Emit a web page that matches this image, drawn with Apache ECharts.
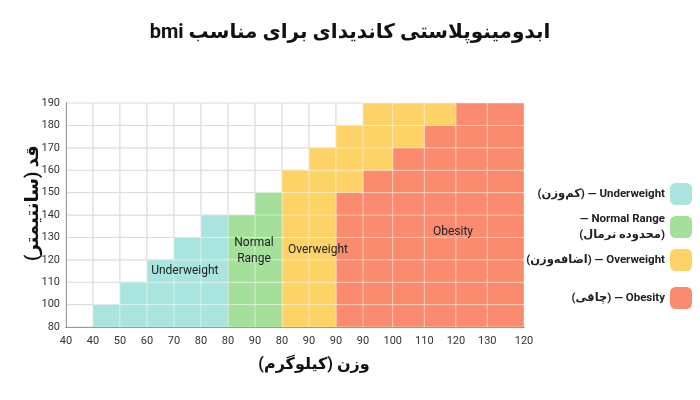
<!DOCTYPE html>
<html>
<head>
<meta charset="utf-8">
<script src="https://cdn.jsdelivr.net/npm/echarts@6/dist/echarts.min.js"></script>
<style>
  html, body { margin: 0; padding: 0; background: #fff; }
  #chart { width: 700px; height: 400px; }
</style>
</head>
<body>
<div id="chart"></div>
<script>
// برچسب‌های محور افقی (وزن) و عمودی (قد) — همان‌طور که در تصویر آمده
const xLabels = ['40', '40', '50', '60', '70', '80', '80', '90', '80', '90', '90', '90', '100', '110', '120', '130', '120']
const yLabels = ['80', '100', '110', '120', '130', '140', '150', '160', '170', '180', '190']
// پهنای نسبی هر ستون
const colWidths = [1, 1, 1, 1, 1, 1, 1, 1, 1, 1, 1, 1.1, 1.17, 1.17, 1.16, 1.36]

// تعداد خانه‌های هر دسته در هر ستون (از پایین به بالا: چاقی، اضافه‌وزن، نرمال، کم‌وزن)
const underweight = [0, 1, 2, 3, 4, 5, 0, 0, 0, 0, 0, 0, 0, 0, 0, 0]
const normalRange = [0, 0, 0, 0, 0, 0, 5, 6, 0, 0, 0, 0, 0, 0, 0, 0]
const overweight  = [0, 0, 0, 0, 0, 0, 0, 0, 7, 8, 3, 3, 2, 1, 0, 0]
const obesity     = [0, 0, 0, 0, 0, 0, 0, 0, 0, 0, 6, 7, 8, 9, 10, 10]
const rowCount = yLabels.length - 1

// متن‌ها
const rtl = s => '\u202B' + s + '\u202C'
// هر کلمه جدا رسم می‌شود تا ترتیب کلمات مثل تصویر بماند
const titleWords = ['bmi', 'مناسب', 'برای', 'کاندیدای', 'ابدومینوپلاستی']
const xName = rtl('وزن (کیلوگرم)')
const yName = rtl('قد (سانتیمتر)')

const regionLabels = [
  { text: 'Underweight', x: 4.4, y: 2.48 },
  { text: 'Normal\nRange', x: 6.96, y: 3.4 },
  { text: 'Overweight', x: 9.33, y: 3.42 },
  { text: 'Obesity', x: 14.33, y: 4.22 }
]

// مرز ستون‌ها
const edges = [0]
colWidths.forEach(w => edges.push(Math.round((edges[edges.length - 1] + w) * 1000) / 1000))

const categories = [
  { name: 'Obesity', counts: obesity, color: '#fb8b6e', legend: rtl('Obesity — (چاقی)'), top: 287 },
  { name: 'Overweight', counts: overweight, color: '#fdd368', legend: rtl('Overweight — (اضافه‌وزن)'), top: 249 },
  { name: 'Normal Range', counts: normalRange, color: '#a4e09a', legend: rtl('Normal Range —') + '\n' + rtl('(محدوده نرمال)'), top: 211 },
  { name: 'Underweight', counts: underweight, color: '#a9e5de', legend: rtl('Underweight — (کم‌وزن)'), top: 183 }
]

// ساخت خانه‌ها
const cellData = categories.map(() => [])
const whiteCells = []
for (let c = 0; c < colWidths.length; c++) {
  let r = 0
  categories.forEach((cat, i) => {
    for (let k = 0; k < cat.counts[c]; k++) {
      cellData[i].push([edges[c], edges[c + 1], r, r + 1])
      r++
    }
  })
  for (; r < rowCount; r++) whiteCells.push([edges[c], edges[c + 1], r, r + 1])
}

const cellRender = stroke => (params, api) => {
  const p0 = api.coord([api.value(0), api.value(2)])
  const p1 = api.coord([api.value(1), api.value(3)])
  return {
    type: 'rect',
    shape: { x: p0[0], y: p1[1], width: p1[0] - p0[0], height: p0[1] - p1[1] },
    style: { fill: api.visual('color'), stroke: stroke, lineWidth: 1 }
  }
}

const fontFamily = 'Roboto, "Noto Sans", "DejaVu Sans", sans-serif'

const series = [{
  type: 'custom',
  name: 'empty',
  data: whiteCells,
  encode: { x: [0, 1], y: [2, 3] },
  itemStyle: { color: '#ffffff' },
  renderItem: cellRender('#dcdcdc'),
  silent: true
}]
categories.forEach((cat, i) => {
  series.push({
    type: 'custom',
    name: cat.name,
    data: cellData[i],
    encode: { x: [0, 1], y: [2, 3] },
    itemStyle: { color: cat.color },
    renderItem: cellRender('rgba(255,255,255,0.35)'),
    silent: true
  })
})
series.push({
  type: 'custom',
  name: 'labels',
  data: regionLabels.map(l => [l.x, l.y]),
  encode: { x: 0, y: 1 },
  z: 10,
  silent: true,
  renderItem: (params, api) => {
    const p = api.coord([api.value(0), api.value(1)])
    return {
      type: 'text',
      x: p[0],
      y: p[1],
      style: {
        text: regionLabels[params.dataIndex].text,
        fill: '#222',
        fontSize: 12,
        fontFamily: fontFamily,
        align: 'center',
        verticalAlign: 'middle',
        lineHeight: 16
      }
    }
  }
})

const legends = categories.map(cat => ({
  data: [cat.name],
  orient: 'vertical',
  right: 8,
  top: cat.top,
  padding: 0,
  align: 'right',
  icon: 'roundRect',
  itemWidth: 22,
  itemHeight: 22,
  selectedMode: false,
  formatter: () => cat.legend,
  textStyle: { fontSize: 11.5, fontWeight: 'bold', color: '#222', fontFamily: fontFamily, lineHeight: 16 }
}))

const findIdx = v => edges.findIndex(e => Math.abs(e - v) < 1e-6)
const titleStyle = { fontSize: 20, fontWeight: 'bold', color: '#111', fontFamily: fontFamily }

const option = {
  animation: false,
  backgroundColor: '#fff',
  textStyle: { fontFamily: fontFamily },
  title: {
    text: titleWords.map(w => '{w|' + w + '}').join(' '),
    left: 'center',
    top: 18,
    textStyle: Object.assign({ rich: { w: titleStyle } }, titleStyle)
  },
  legend: legends,
  grid: { left: 66, right: 176, top: 103, bottom: 73 },
  xAxis: [{
    type: 'value',
    min: 0,
    max: edges[edges.length - 1],
    position: 'bottom',
    z: 5,
    name: xName,
    nameLocation: 'middle',
    nameGap: 30,
    nameTextStyle: { fontSize: 16, fontWeight: 'bold', color: '#111', padding: [0, 0, 0, 38] },
    axisLine: { show: true, lineStyle: { color: '#707070' } },
    axisTick: { show: false },
    splitLine: { show: false },
    axisLabel: {
      customValues: edges,
      formatter: v => xLabels[findIdx(v)],
      color: '#333',
      fontSize: 11,
      margin: 9
    }
  }, {
    type: 'value',
    min: 0,
    max: edges[edges.length - 1],
    position: 'top',
    z: 5,
    axisLine: { show: true, lineStyle: { color: '#9a9a9a' } },
    axisTick: { show: false },
    axisLabel: { show: false },
    splitLine: { show: false }
  }],
  yAxis: [{
    type: 'value',
    min: 0,
    max: rowCount,
    interval: 1,
    z: 5,
    name: yName,
    nameLocation: 'middle',
    nameRotate: 90,
    nameGap: 24,
    nameMoveOverlap: false,
    nameTextStyle: { fontSize: 18, fontWeight: 'bold', color: '#111', padding: [0, 0, 0, 24] },
    axisLine: { show: true, lineStyle: { color: '#707070' } },
    axisTick: { show: false },
    splitLine: { show: false },
    axisLabel: { formatter: v => yLabels[v], color: '#333', fontSize: 11, margin: 6 }
  }, {
    type: 'value',
    min: 0,
    max: rowCount,
    interval: 1,
    position: 'right',
    z: 5,
    axisLine: { show: true, lineStyle: { color: '#9a9a9a' } },
    axisTick: { show: false },
    axisLabel: { show: false },
    splitLine: { show: false }
  }],
  series: series
}

const chart = echarts.init(document.getElementById('chart'))
chart.setOption(option)
</script>
</body>
</html>
